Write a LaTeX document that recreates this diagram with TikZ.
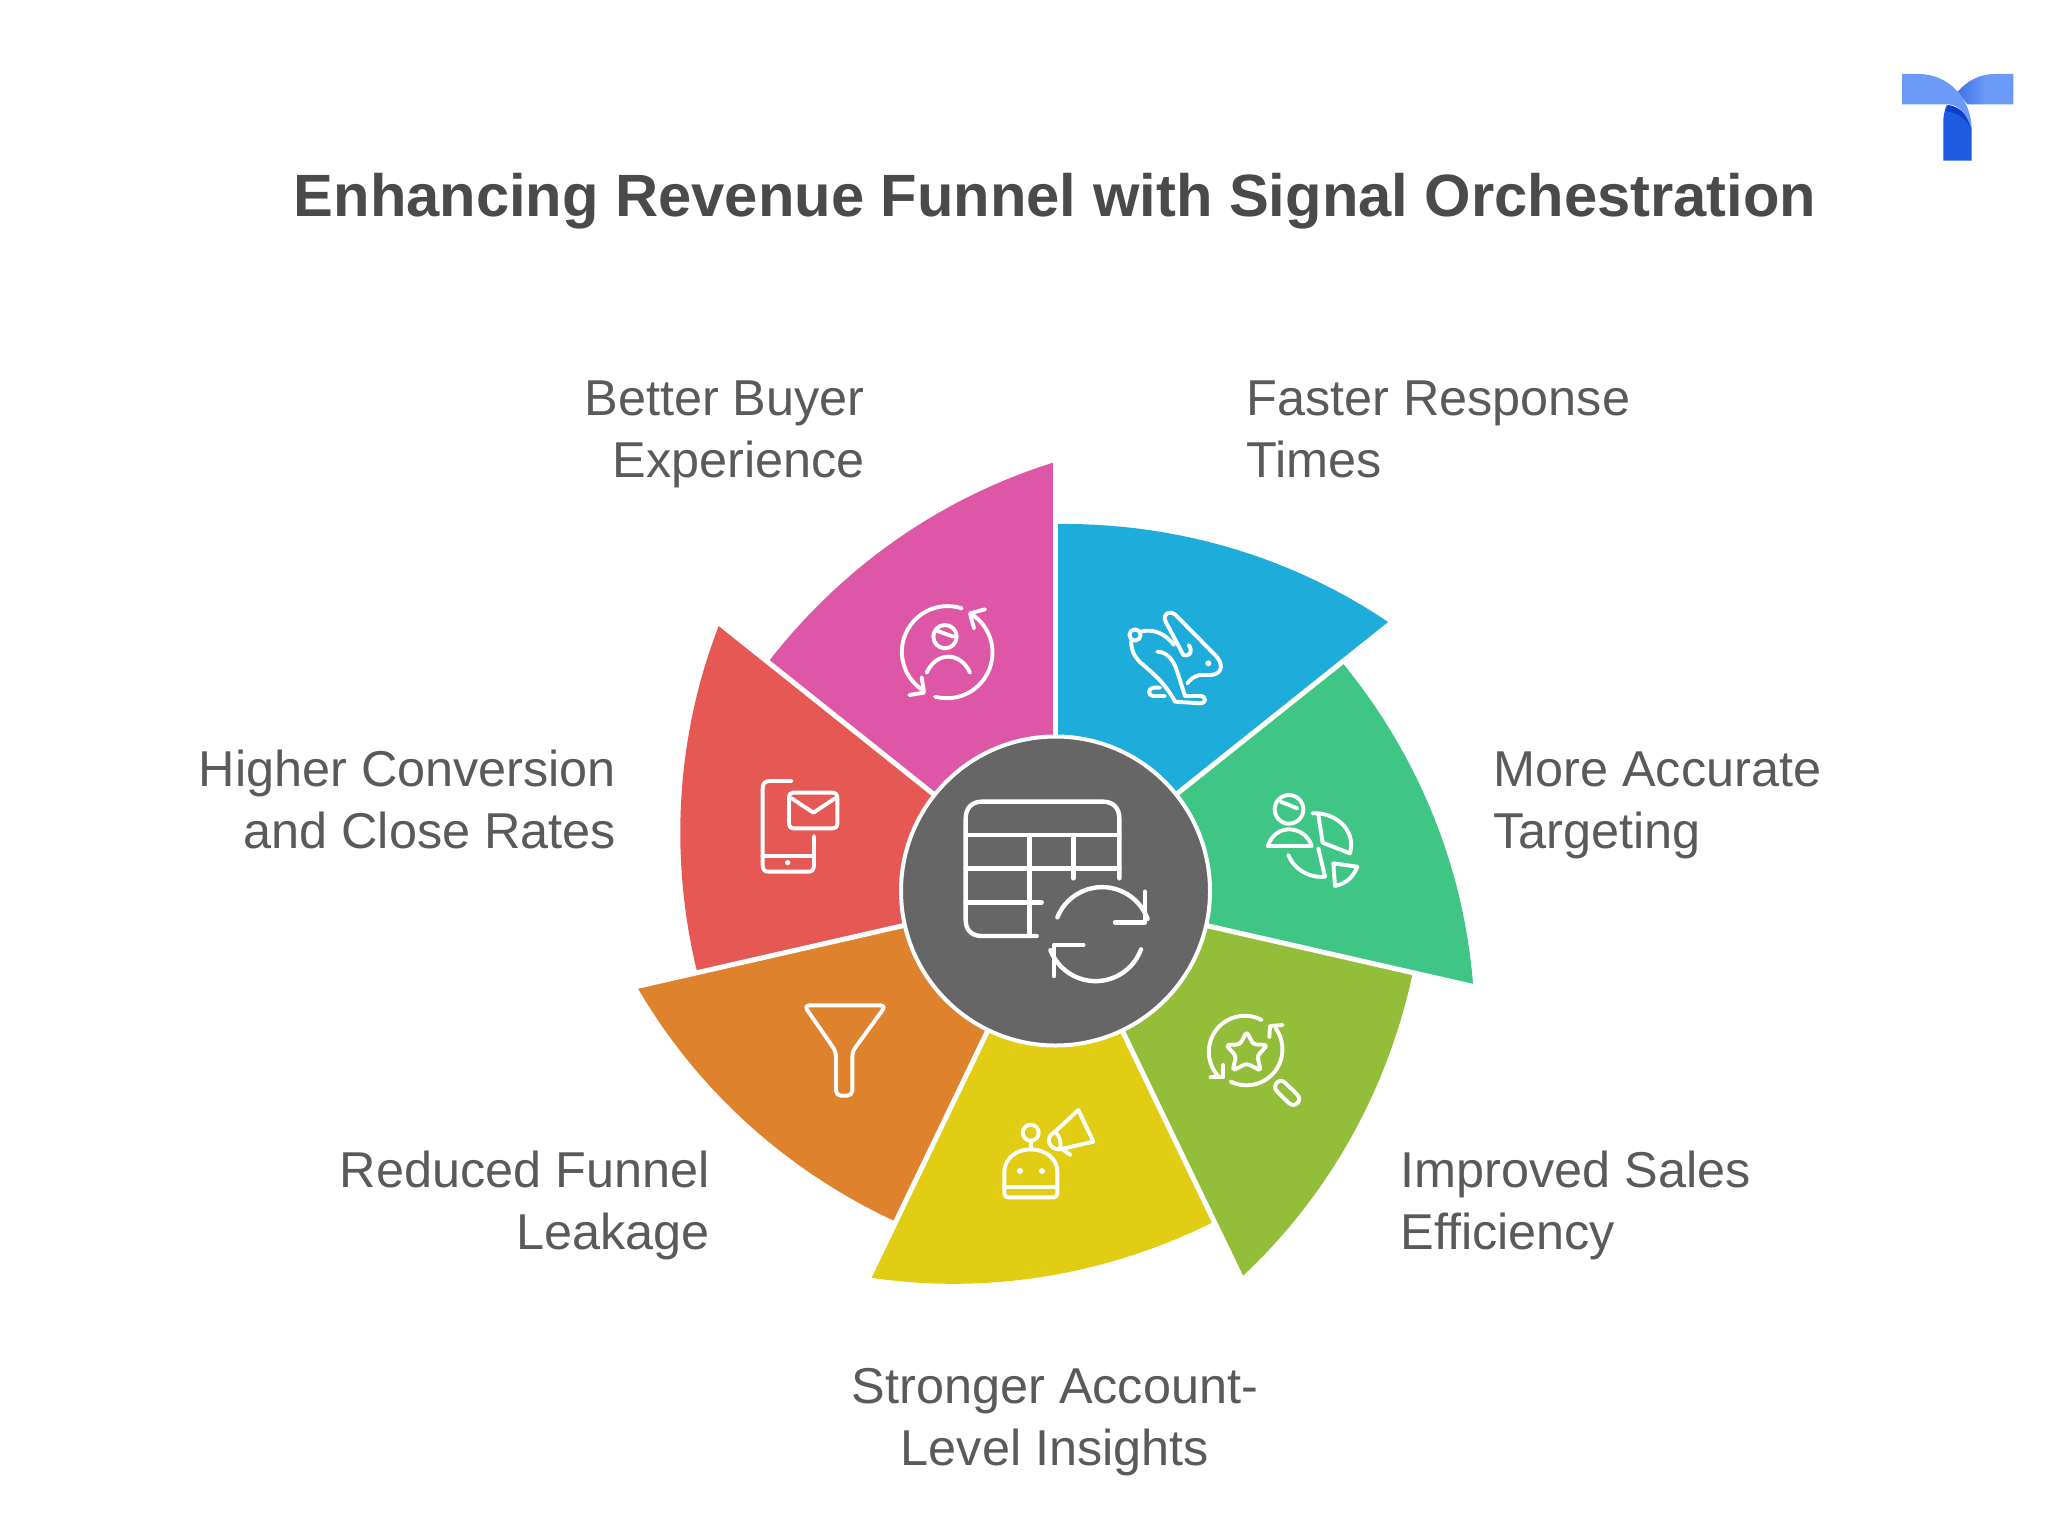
\documentclass[tikz,border=0pt]{standalone}
\usepackage{fontspec}
\setmainfont{Liberation Sans}
\definecolor{wblue}{HTML}{1EACDA}
\definecolor{wgreen}{HTML}{3FC684}
\definecolor{wolive}{HTML}{93BE39}
\definecolor{wyellow}{HTML}{E0CD14}
\definecolor{worange}{HTML}{DE822E}
\definecolor{wred}{HTML}{E55853}
\definecolor{wpink}{HTML}{DE57A7}
\definecolor{hubgray}{HTML}{666666}
\definecolor{labelgray}{HTML}{5A5A5A}
\definecolor{titlegray}{HTML}{4A4A4A}
\definecolor{logolight}{HTML}{6B9AF8}
\definecolor{logomid}{HTML}{3F72EA}
\definecolor{logostem}{HTML}{1D5CE0}
\definecolor{logodark}{HTML}{0F3FC8}
\newcommand{\lineone}{\rule{0pt}{19pt}}
\tikzset{
  ico/.style={draw=white,line width=1.95pt,line cap=round,line join=round},
  hubico/.style={draw=white,line width=2.2pt,line cap=round,line join=round},
  lab/.style={inner sep=0pt,text=labelgray,font=\fontsize{25.2}{31}\selectfont},
  dot/.style={fill=white}
}
\begin{document}
\begin{tikzpicture}[x=0.5pt,y=-0.5pt]
\useasboundingbox (0,0) rectangle (2048,1536);
\fill[white] (0,0) rectangle (2048,1536);
% wedges
\foreach \k/\col in {0/wblue,1/wgreen,2/wolive,3/wyellow,4/worange,5/wred,6/wpink}{
  \fill[\col] (1055,891) -- plot[domain=0:1,samples=25,variable=\t]
    ({1055+(367+5*\t+57*\t*\t)*sin(51.4286*(\k+\t))},{891-(367+5*\t+57*\t*\t)*cos(51.4286*(\k+\t))}) -- cycle;
}
\foreach \k in {0,...,6}{
  \draw[white,line width=2.5pt] (1055,891) -- ({1055+445*sin(51.4286*\k)},{891-445*cos(51.4286*\k)});
}
\node[circle,fill=hubgray,draw=white,line width=2pt,minimum size=154.5pt,inner sep=0pt] (hub) at (1055.5,891) {};
% hub icon
\begin{scope}[shift={(950,790)},scale=1/3]
  \draw[hubico] (260,438) -- (95,438) .. controls (65,438) and (47,420) .. (47,390) -- (47,85) .. controls (47,55) and (65,35) .. (95,35) -- (460,35) .. controls (490,35) and (508,55) .. (508,85) -- (508,265);
  \draw[hubico] (47,135) -- (508,135) (47,235) -- (508,235) (47,337) -- (275,337);
  \draw[hubico] (238,135) -- (238,438) (370,135) -- (370,265);
  \draw[hubico] (322,382) arc[start angle=-158,end angle=-20,radius=145];
  \draw[hubico] (573,478) arc[start angle=20,end angle=159,radius=145];
  \draw[hubico] (495,397) -- (585,397) -- (585,305);
  \draw[hubico] (400,465) -- (312,465) -- (312,558);
\end{scope}
% pink icon
\begin{scope}[shift={(620,440)},scale=1/3]
  \draw[ico] (1025,505) arc[start angle=-72,end angle=-235,radius=137];
  \draw[ico] (945,770) arc[start angle=105,end angle=-55,radius=137];
  \draw[ico] (1095,508) -- (1050,520) -- (1062,565);
  \draw[ico] (868,765) -- (912,758) -- (905,712);
  \draw[ico] (975,590) circle[radius=35];
  \draw[ico] (950,572) -- (1000,590);
  \draw[ico] (920,698) .. controls (935,665) and (960,650) .. (985,650) .. controls (1010,650) and (1035,665) .. (1050,698);
\end{scope}
% red icon
\begin{scope}[shift={(620,440)},scale=1/3]
  \draw[ico] (515,1023) -- (450,1023) .. controls (435,1023) and (428,1030) .. (428,1045) -- (428,1275) .. controls (428,1290) and (435,1295) .. (445,1295) -- (565,1295) .. controls (575,1295) and (582,1290) .. (582,1275) -- (582,1188);
  \draw[ico] (428,1247) -- (582,1247);
  \fill[dot] (503,1268) circle[radius=8];
  \draw[ico,rounded corners=2pt] (507,1058) rectangle (652,1165);
  \draw[ico] (515,1075) -- (580,1118) -- (645,1075);
\end{scope}
% blue icon
\begin{scope}[shift={(1000,500)},scale=1/3]
  \draw[ico] (405,405) circle[radius=17];
  \draw[ico] (566,435) .. controls (580,455) and (570,470) .. (550,465) -- (497,365) .. controls (485,340) and (510,330) .. (527,345) -- (650,470) .. controls (675,500) and (660,525) .. (630,525) -- (600,525) .. controls (585,527) and (570,538) .. (562,550);
  \draw[ico] (422,395) .. controls (460,385) and (495,400) .. (522,435);
  \draw[ico] (393,425) .. controls (395,455) and (405,475) .. (430,495) .. controls (465,525) and (495,550) .. (525,605) -- (600,610) .. controls (620,610) and (620,588) .. (600,588) -- (555,588) -- (530,510) .. controls (520,480) and (500,455) .. (472,455);
  \draw[ico] (495,588) -- (462,588) .. controls (442,588) and (442,565) .. (462,563) -- (480,563);
  \fill[dot] (625,490) circle[radius=9];
\end{scope}
% green icon
\begin{scope}[shift={(1000,500)},scale=1/3]
  \draw[ico] (867,928) circle[radius=43];
  \draw[ico] (842,905) -- (892,925);
  \draw[ico] (803,1038) -- (935,1038) .. controls (925,1005) and (895,988) .. (867,988) .. controls (840,988) and (815,1005) .. (803,1038) -- cycle;
  \draw[ico] (937,940) .. controls (1000,935) and (1070,985) .. (1050,1060) -- (968,1028) -- (955,945);
  \draw[ico] (865,1065) .. controls (880,1105) and (925,1135) .. (975,1130) -- (955,1045);
  \draw[ico] (1000,1090) -- (1072,1100) .. controls (1060,1130) and (1040,1150) .. (1005,1158) -- cycle;
\end{scope}
% olive icon
\begin{scope}[shift={(1190,1000)},scale=1/3]
  \draw[ico] (215,60) arc[start angle=-62,end angle=-224,radius=108];
  \draw[ico] (122,245) arc[start angle=116,end angle=-36,radius=108];
  \draw[ico] (278,75) -- (240,78) -- (238,112);
  \draw[ico] (62,232) -- (100,232) -- (100,195);
  \draw[ico,rounded corners=1.5pt] (170,95) -- (190,133) -- (232,135) -- (202,168) -- (212,212) -- (170,190) -- (128,212) -- (138,168) -- (108,135) -- (150,133) -- cycle;
  \draw[ico,rounded corners=3pt] (272,235) -- (335,297) -- (310,322) -- (248,262) -- cycle;
\end{scope}
% yellow icon
\begin{scope}[shift={(980,1090)},scale=1/3]
  \draw[ico] (152,128) circle[radius=24];
  \draw[ico] (152,152) -- (152,178);
  \draw[ico] (85,322) .. controls (78,322) and (73,318) .. (73,310) -- (73,245) .. controls (73,205) and (110,178) .. (152,178) .. controls (195,178) and (232,205) .. (232,245) -- (232,310) .. controls (232,318) and (228,322) .. (220,322) -- cycle;
  \draw[ico] (73,292) -- (232,292);
  \fill[dot] (120,243) circle[radius=9];
  \fill[dot] (186,243) circle[radius=9];
  \draw[ico] (295,60) -- (340,155) -- (240,178) .. controls (210,180) and (190,145) .. (225,125) -- cycle;
  \draw[ico] (225,125) .. controls (240,140) and (245,160) .. (240,178);
  \draw[ico] (250,180) -- (272,195);
\end{scope}
% orange icon
\begin{scope}[shift={(780,980)},scale=1/3]
  \draw[ico,rounded corners=2.5pt] (72,76) -- (318,76) -- (217,215) -- (217,347) -- (168,347) -- (168,215) -- cycle;
\end{scope}
% labels
\node[lab,anchor=north east,align=right] (buyer) at (865,377.5) {\lineone Better Buyer\\Experience};
\node[lab,anchor=north west,align=left] (faster) at (1246,377.5) {\lineone Faster Response\\Times};
\node[lab,anchor=north west,align=left] (accurate) at (1493,748.5) {\lineone More Accurate\\Targeting};
\node[lab,anchor=north east,align=right] (higher) at (616.5,748.5) {\lineone Higher Conversion\\and Close Rates};
\node[lab,anchor=north west,align=left] (improved) at (1400,1149.5) {\lineone Improved Sales\\Efficiency};
\node[lab,anchor=north east,align=right] (reduced) at (710,1149.5) {\lineone Reduced Funnel\\Leakage};
\node[lab,anchor=north,align=center] (stronger) at (1055,1365.5) {\lineone Stronger Account-\\Level Insights};
\node[inner sep=0pt,anchor=base,text=titlegray,font=\fontsize{29.85}{36}\selectfont\bfseries] (title) at (1055,216) {Enhancing Revenue Funnel with Signal Orchestration};
% logo
\begin{scope}[shift={(1880,50)},scale=1/3]
  \fill[logostem] (190,332) -- (275,332) -- (275,240) .. controls (265,195) and (235,178) .. (200,165) .. controls (192,185) and (190,200) .. (190,215) -- cycle;
  \fill[logodark] (205,165) .. controls (240,170) and (265,195) .. (275,240) .. controls (262,210) and (240,190) .. (198,183) -- cycle;
  \shade[left color=logomid,right color=logolight,middle color=logolight] (400,72) -- (345,72) .. controls (295,72) and (260,95) .. (233,125) -- (262,163) -- (400,163) -- cycle;
  \fill[logolight] (66,72) -- (115,72) .. controls (210,72) and (275,150) .. (275,240) .. controls (265,205) and (245,165) .. (205,163) -- (66,163) -- cycle;
\end{scope}
\end{tikzpicture}
\end{document}
